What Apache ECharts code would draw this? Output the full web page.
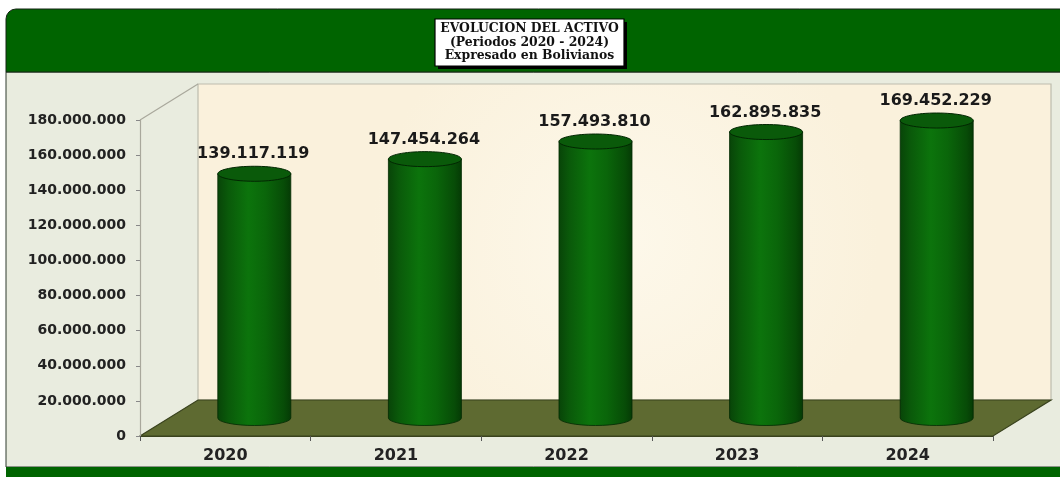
<!DOCTYPE html>
<html><head><meta charset="utf-8">
<script src="https://cdn.jsdelivr.net/npm/echarts@6/dist/echarts.min.js"></script>
<style>html,body{margin:0;padding:0;background:#fff}#c{width:1060px;height:477px}</style>
</head><body><div id="c"></div>
<script>
// ---- data ----
const categories = ['2020', '2021', '2022', '2023', '2024'];
const values = [139117119, 147454264, 157493810, 162895835, 169452229];
const yMin = 0;
const yMax = 180000000;
const yInterval = 20000000;
const titleLines = ['EVOLUCION DEL ACTIVO', '(Periodos 2020 - 2024)', 'Expresado en Bolivianos'];

// ---- style constants ----
const DX = 58, DY = -36;           // 3D depth offset
const FONT = '"DejaVu Sans", Verdana, sans-serif';

function fmt(v) {
  return String(Math.round(v)).replace(/\B(?=(\d{3})+(?!\d))/g, '.');
}

const chart = echarts.init(document.getElementById('c'), null, {renderer: 'canvas'});

function renderFrame(params, api) {
  const cs = params.coordSys;
  const x0 = cs.x, x1 = cs.x + cs.width, yT = cs.y, yB = cs.y + cs.height;
  return {
    type: 'group',
    children: [
      { type: 'rect', shape: { x: x0 + DX, y: yT + DY, width: cs.width, height: cs.height },
        style: { fill: {
          type: 'radial', x: 0.5, y: 0.5, r: 0.8,
          colorStops: [{offset: 0, color: '#fdf8ea'}, {offset: 1, color: '#faf1dc'}]
        }, stroke: '#bdbcae', lineWidth: 1.2 } },
      { type: 'line', shape: { x1: x0, y1: yT, x2: x0 + DX, y2: yT + DY },
        style: { stroke: '#a9a89c', lineWidth: 1.2 } },
      { type: 'polygon', shape: { points: [[x0, yB], [x0 + DX, yB + DY], [x1 + DX, yB + DY], [x1, yB]] },
        style: { fill: '#5e6a31', stroke: '#39421d', lineWidth: 1.2 } }
    ]
  };
}

function renderCyl(params, api) {
  const i = api.value(0), v = api.value(1);
  const top = api.coord([i, v]);
  const base = api.coord([i, 0]);
  const bw = api.size([1, 0])[0] * 0.428;
  const rx = bw / 2, ry = 7.5;
  const cx = top[0] + DX / 2;
  const ty = top[1] + DY / 2;
  const by = base[1] + DY / 2;
  const grad = {
    type: 'linear', x: 0, y: 0, x2: 1, y2: 0,
    colorStops: [
      {offset: 0, color: '#084408'},
      {offset: 0.15, color: '#0a5a0a'},
      {offset: 0.42, color: '#0c740c'},
      {offset: 0.65, color: '#0a660a'},
      {offset: 0.9, color: '#074c07'},
      {offset: 1, color: '#053a05'}
    ]
  };
  const d = 'M' + (cx - rx) + ' ' + ty + ' L' + (cx - rx) + ' ' + by +
    ' A' + rx + ' ' + ry + ' 0 0 0 ' + (cx + rx) + ' ' + by +
    ' L' + (cx + rx) + ' ' + ty + ' Z';
  return {
    type: 'group',
    children: [
      { type: 'path', shape: { pathData: d }, style: { fill: grad, stroke: '#032a03', lineWidth: 0.8 } },
      { type: 'ellipse', shape: { cx: cx, cy: ty, rx: rx, ry: ry },
        style: { fill: '#0a5a0a', stroke: '#022602', lineWidth: 1 } },
      { type: 'text', style: { text: fmt(v), x: cx - 1, y: ty - 19.5, align: 'center', verticalAlign: 'middle',
        font: 'bold 16px ' + FONT, fill: '#1a1a1a' } }
    ]
  };
}

const option = {
  backgroundColor: '#ffffff',
  animation: false,
  grid: { left: 140, right: 67, top: 120, bottom: 41, containLabel: false },
  xAxis: {
    type: 'category', data: categories, boundaryGap: true, z: 5,
    axisLine: { show: true, lineStyle: { color: '#39421d', width: 1.2 } },
    axisTick: { show: true, length: 5, lineStyle: { color: '#555' } },
    axisLabel: { margin: 12, fontSize: 16, fontWeight: 'bold', fontFamily: FONT, color: '#222' },
    splitLine: { show: false }
  },
  yAxis: {
    type: 'value', min: yMin, max: yMax, interval: yInterval, z: 5,
    axisLine: { show: true, lineStyle: { color: '#a9a89c', width: 1.2 } },
    axisTick: { show: true, length: 4, lineStyle: { color: '#888' } },
    axisLabel: { margin: 14, fontSize: 14, fontWeight: 'bold', fontFamily: FONT, color: '#222', formatter: fmt },
    splitLine: { show: false }
  },
  series: [
    { type: 'custom', z: 1, silent: true, clip: false, renderItem: renderFrame, data: [[0, 0]], encode: { x: 0, y: 1 } },
    { type: 'custom', z: 3, silent: true, clip: false, renderItem: renderCyl,
      data: values.map((v, i) => [i, v]), encode: { x: 0, y: 1 } }
  ],
  graphic: [
    { type: 'rect', z: -10, shape: { x: 6, y: 72, width: 1060, height: 395 },
      style: { fill: '#e9ecdf', stroke: '#2f3a2f', lineWidth: 1 } },
    { type: 'rect', z: -9, shape: { x: 6, y: 9, width: 1060, height: 63, r: [10, 0, 0, 0] },
      style: { fill: '#006400', stroke: '#142414', lineWidth: 1 } },
    { type: 'rect', z: -9, shape: { x: 6, y: 467, width: 1060, height: 12 },
      style: { fill: '#006400' } },
    { type: 'rect', z: 50, shape: { x: 438, y: 22, width: 189, height: 47 }, style: { fill: '#000' } },
    { type: 'rect', z: 51, shape: { x: 435, y: 19, width: 189, height: 47 },
      style: { fill: '#ffffff', stroke: '#000', lineWidth: 1.2 } },
    { type: 'text', z: 52, style: { text: titleLines.join('\n'), x: 529.5, y: 42.5, align: 'center', verticalAlign: 'middle',
      font: 'bold 12.4px "DejaVu Serif", serif', lineHeight: 13.5, fill: '#111' } }
  ]
};
chart.setOption(option);
</script>
</body></html>
